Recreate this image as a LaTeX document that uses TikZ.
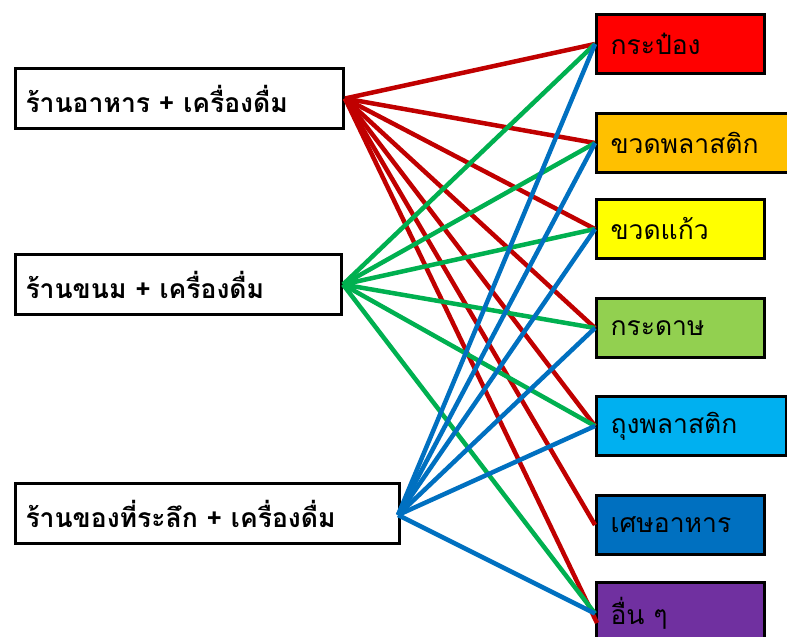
\documentclass[tikz,border=0pt]{standalone}
\usepackage{fontspec}
\newfontfamily\thai[Script=Thai]{Loma}
\definecolor{lnred}{HTML}{C00000}
\definecolor{lngreen}{HTML}{00B050}
\definecolor{lnblue}{HTML}{0070C0}
\definecolor{fred}{HTML}{FF0000}
\definecolor{forange}{HTML}{FFC000}
\definecolor{fyellow}{HTML}{FFFF00}
\definecolor{fgreen}{HTML}{92D050}
\definecolor{fcyan}{HTML}{00B0F0}
\definecolor{fblue}{HTML}{0070C0}
\definecolor{fpurple}{HTML}{7030A0}
\begin{document}
\begin{tikzpicture}[x=1pt,y=-1pt,
  srcbox/.style={draw=black,line width=3pt,fill=white,rectangle,anchor=north west,minimum height=60pt,inner xsep=10pt,align=left,font=\thai\bfseries\fontsize{26.5}{30}\selectfont},
  catbox/.style={draw=black,line width=3pt,rectangle,anchor=north west,minimum height=59pt,inner xsep=14pt,align=left,font=\thai\fontsize{26.5}{30}\selectfont},
  redln/.style={draw=lnred,line width=4.5pt},
  greenln/.style={draw=lngreen,line width=4.5pt},
  blueln/.style={draw=lnblue,line width=4.5pt}]
\useasboundingbox (0,0) rectangle (787,637);
% source boxes
\node[srcbox,text width=308pt] (s1) at (14,67) {ร้านอาหาร + เครื่องดื่ม};
\node[srcbox,text width=306pt] (s2) at (14,253) {ร้านขนม + เครื่องดื่ม};
\node[srcbox,text width=364pt] (s3) at (14,482) {ร้านของที่ระลึก + เครื่องดื่ม};
% category boxes
\node[catbox,fill=fred,text width=140pt] (c1) at (595,13) {กระป๋อง};
\node[catbox,fill=forange,text width=167pt] (c2) at (595,112) {ขวดพลาสติก};
\node[catbox,fill=fyellow,text width=140pt] (c3) at (595,198) {ขวดแก้ว};
\node[catbox,fill=fgreen,text width=140pt] (c4) at (595,297) {กระดาษ};
\node[catbox,fill=fcyan,text width=162pt] (c5) at (595,395) {ถุงพลาสติก};
\node[catbox,fill=fblue,text width=140pt] (c6) at (595,494) {เศษอาหาร};
\node[catbox,fill=fpurple,text width=140pt,minimum height=62pt] (c7) at (595,581) {อื่น ๆ};
\coordinate (c7r) at (597,623);
\coordinate (s3e) at (398,515);
% red connectors
\foreach \t in {c1,c2,c3,c4,c5,c6}{\draw[redln] (s1.east) -- (\t.west);}
\draw[redln] (s1.east) -- (c7r);
% green connectors
\foreach \t in {c1,c2,c3,c4,c5}{\draw[greenln] (s2.east) -- (\t.west);}
\draw[greenln] (s2.east) -- (c7.west);
% blue connectors
\foreach \t in {c1,c2,c3,c4,c5}{\draw[blueln] (s3e) -- (\t.west);}
\draw[blueln] (s3e) -- (c7.west);
\end{tikzpicture}
\end{document}
